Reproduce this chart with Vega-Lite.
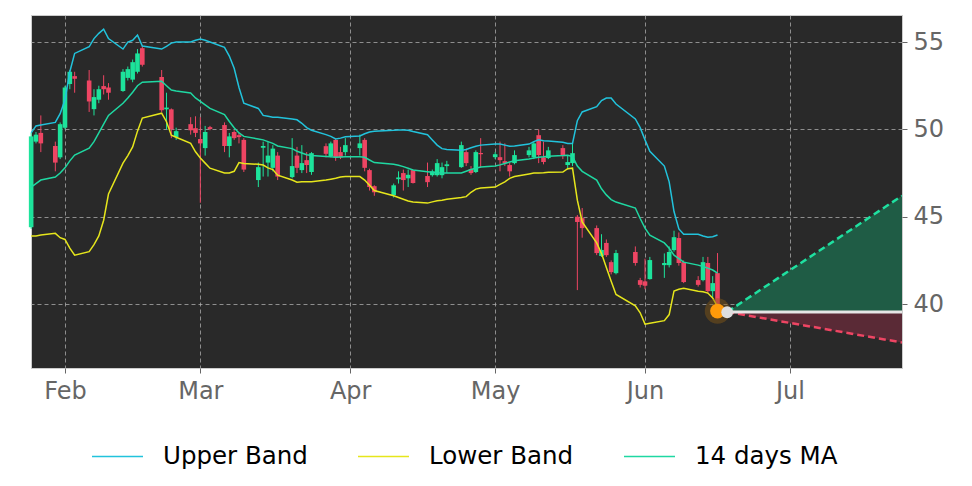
{
  "$schema": "https://vega.github.io/schema/vega-lite/v6.json",
  "width": 871,
  "height": 353,
  "autosize": {"type": "none"},
  "padding": {"left": 31, "top": 15, "right": 70, "bottom": 118},
  "background": "#ffffff",
  "config": {
    "view": {"fill": "#292929", "stroke": "#cccccc", "strokeWidth": 1},
    "font": "DejaVu Sans",
    "axis": {
      "labelFont": "DejaVu Sans",
      "labelFontSize": 24,
      "labelColor": "#666666",
      "tickColor": "#666666",
      "tickSize": 5,
      "domain": false,
      "grid": true,
      "gridColor": "#b0b0b0",
      "gridDash": [4, 3],
      "gridOpacity": 0.75,
      "gridWidth": 1,
      "labelPadding": 6,
      "title": null
    },
    "legend": {
      "labelFont": "DejaVu Sans",
      "labelFontSize": 24.5,
      "labelColor": "#000000",
      "padding": 0
    }
  },
  "datasets": {
    "candles": [
      {"date": "2023-01-25T00:00", "open": 44.4, "high": 49.8, "low": 44.3, "close": 49.6},
      {"date": "2023-01-26T00:00", "open": 49.3, "high": 49.85, "low": 49.2, "close": 49.7},
      {"date": "2023-01-27T00:00", "open": 49.8, "high": 50.8, "low": 48.7, "close": 49.2},
      {"date": "2023-01-30T00:00", "open": 49.05, "high": 49.3, "low": 47.6, "close": 48.1},
      {"date": "2023-01-31T00:00", "open": 48.4, "high": 50.4, "low": 48.3, "close": 50.3},
      {"date": "2023-02-01T00:00", "open": 50.1, "high": 52.5, "low": 50.0, "close": 52.4},
      {"date": "2023-02-02T00:00", "open": 52.6, "high": 53.4, "low": 52.3, "close": 53.3},
      {"date": "2023-02-03T00:00", "open": 53.05, "high": 53.3, "low": 52.1, "close": 52.9},
      {"date": "2023-02-06T00:00", "open": 52.8, "high": 53.4, "low": 51.0, "close": 51.6},
      {"date": "2023-02-07T00:00", "open": 51.16, "high": 52.3, "low": 50.8, "close": 51.85},
      {"date": "2023-02-08T00:00", "open": 51.7, "high": 52.5, "low": 51.5, "close": 52.3},
      {"date": "2023-02-09T00:00", "open": 52.48, "high": 53.1, "low": 52.0, "close": 52.3},
      {"date": "2023-02-10T00:00", "open": 52.4, "high": 52.65, "low": 51.7, "close": 52.1},
      {"date": "2023-02-13T00:00", "open": 52.2, "high": 53.45, "low": 52.15, "close": 53.3},
      {"date": "2023-02-14T00:00", "open": 52.95, "high": 53.6, "low": 52.8, "close": 53.45},
      {"date": "2023-02-15T00:00", "open": 52.85, "high": 54.0, "low": 52.7, "close": 53.85},
      {"date": "2023-02-16T00:00", "open": 53.3, "high": 54.6, "low": 53.2, "close": 54.35},
      {"date": "2023-02-17T00:00", "open": 54.65, "high": 54.8, "low": 53.6, "close": 53.7},
      {"date": "2023-02-21T00:00", "open": 53.0, "high": 53.4, "low": 51.0, "close": 51.1},
      {"date": "2023-02-22T00:00", "open": 51.15, "high": 52.1, "low": 50.0, "close": 51.25},
      {"date": "2023-02-23T00:00", "open": 51.15, "high": 51.2, "low": 49.5, "close": 50.0},
      {"date": "2023-02-24T00:00", "open": 49.56, "high": 50.1, "low": 49.4, "close": 49.9},
      {"date": "2023-02-27T00:00", "open": 50.3, "high": 50.7, "low": 49.7, "close": 49.95},
      {"date": "2023-02-28T00:00", "open": 50.07, "high": 50.75, "low": 49.56, "close": 49.8},
      {"date": "2023-03-01T00:00", "open": 49.45, "high": 50.7, "low": 45.8, "close": 49.2},
      {"date": "2023-03-02T00:00", "open": 48.93, "high": 50.2, "low": 48.5, "close": 49.85},
      {"date": "2023-03-03T00:00", "open": 50.13, "high": 50.2, "low": 49.95, "close": 50.02},
      {"date": "2023-03-06T00:00", "open": 50.25, "high": 50.4, "low": 48.7, "close": 49.05},
      {"date": "2023-03-07T00:00", "open": 49.05, "high": 49.8, "low": 48.4, "close": 49.6},
      {"date": "2023-03-08T00:00", "open": 49.85, "high": 49.95, "low": 49.4, "close": 49.5},
      {"date": "2023-03-09T00:00", "open": 49.67, "high": 49.8, "low": 49.2, "close": 49.56},
      {"date": "2023-03-10T00:00", "open": 49.4, "high": 49.5, "low": 47.56, "close": 47.7},
      {"date": "2023-03-13T00:00", "open": 47.1, "high": 48.1, "low": 46.7, "close": 47.84},
      {"date": "2023-03-14T00:00", "open": 48.95, "high": 49.3, "low": 47.3, "close": 49.05},
      {"date": "2023-03-15T00:00", "open": 48.1, "high": 49.3, "low": 47.3, "close": 48.5},
      {"date": "2023-03-16T00:00", "open": 47.8, "high": 49.1, "low": 47.6, "close": 48.9},
      {"date": "2023-03-17T00:00", "open": 48.5, "high": 48.7, "low": 47.1, "close": 47.3},
      {"date": "2023-03-20T00:00", "open": 47.27, "high": 49.5, "low": 47.2, "close": 47.9},
      {"date": "2023-03-21T00:00", "open": 48.5, "high": 49.0, "low": 47.5, "close": 47.8},
      {"date": "2023-03-22T00:00", "open": 47.67, "high": 49.1, "low": 47.5, "close": 48.07},
      {"date": "2023-03-23T00:00", "open": 48.24, "high": 48.7, "low": 47.5, "close": 47.96},
      {"date": "2023-03-24T00:00", "open": 47.56, "high": 48.7, "low": 47.4, "close": 48.64},
      {"date": "2023-03-27T00:00", "open": 49.04, "high": 49.2, "low": 48.4, "close": 48.6},
      {"date": "2023-03-28T00:00", "open": 48.47, "high": 49.3, "low": 48.4, "close": 49.2},
      {"date": "2023-03-29T00:00", "open": 49.4, "high": 49.5, "low": 48.2, "close": 48.4},
      {"date": "2023-03-30T00:00", "open": 48.7, "high": 49.0, "low": 48.3, "close": 48.4},
      {"date": "2023-03-31T00:00", "open": 48.7, "high": 49.5, "low": 48.5, "close": 49.1},
      {"date": "2023-04-03T00:00", "open": 48.93, "high": 49.7, "low": 48.5, "close": 49.2},
      {"date": "2023-04-04T00:00", "open": 49.4, "high": 49.5, "low": 47.6, "close": 47.8},
      {"date": "2023-04-05T00:00", "open": 47.67, "high": 47.75, "low": 46.5, "close": 46.7},
      {"date": "2023-04-06T00:00", "open": 46.75, "high": 46.8, "low": 46.2, "close": 46.4},
      {"date": "2023-04-10T00:00", "open": 46.24, "high": 46.9, "low": 46.1, "close": 46.8},
      {"date": "2023-04-11T00:00", "open": 47.15, "high": 47.6, "low": 46.9, "close": 47.25},
      {"date": "2023-04-12T00:00", "open": 47.5, "high": 47.7, "low": 46.5, "close": 47.1},
      {"date": "2023-04-13T00:00", "open": 47.2, "high": 47.7, "low": 46.7, "close": 47.4},
      {"date": "2023-04-14T00:00", "open": 47.67, "high": 47.7, "low": 46.9, "close": 46.93},
      {"date": "2023-04-17T00:00", "open": 47.33, "high": 48.1, "low": 46.7, "close": 46.98},
      {"date": "2023-04-18T00:00", "open": 47.38, "high": 47.7, "low": 47.3, "close": 47.6},
      {"date": "2023-04-19T00:00", "open": 47.38, "high": 48.3, "low": 47.3, "close": 48.07},
      {"date": "2023-04-20T00:00", "open": 47.38, "high": 48.1, "low": 47.2, "close": 47.84},
      {"date": "2023-04-21T00:00", "open": 47.9, "high": 48.2, "low": 47.5, "close": 48.0},
      {"date": "2023-04-24T00:00", "open": 47.84, "high": 49.3, "low": 47.8, "close": 49.1},
      {"date": "2023-04-25T00:00", "open": 48.7, "high": 48.9, "low": 47.9, "close": 48.07},
      {"date": "2023-04-26T00:00", "open": 47.73, "high": 47.9, "low": 47.4, "close": 47.5},
      {"date": "2023-04-27T00:00", "open": 47.56, "high": 48.8, "low": 47.5, "close": 48.7},
      {"date": "2023-04-28T00:00", "open": 48.65, "high": 49.5, "low": 47.8, "close": 48.58},
      {"date": "2023-05-01T00:00", "open": 48.41, "high": 48.7, "low": 48.3, "close": 48.58},
      {"date": "2023-05-02T00:00", "open": 48.41, "high": 49.3, "low": 47.6, "close": 48.24},
      {"date": "2023-05-03T00:00", "open": 48.18, "high": 49.2, "low": 47.9, "close": 48.07},
      {"date": "2023-05-04T00:00", "open": 47.96, "high": 48.1, "low": 47.3, "close": 47.6},
      {"date": "2023-05-05T00:00", "open": 48.07, "high": 48.8, "low": 48.0, "close": 48.53},
      {"date": "2023-05-08T00:00", "open": 48.53, "high": 49.0, "low": 48.4, "close": 48.8},
      {"date": "2023-05-09T00:00", "open": 48.41, "high": 49.3, "low": 48.3, "close": 49.2},
      {"date": "2023-05-10T00:00", "open": 49.67, "high": 50.0, "low": 48.07, "close": 48.53},
      {"date": "2023-05-11T00:00", "open": 48.41, "high": 49.3, "low": 48.0, "close": 48.13},
      {"date": "2023-05-12T00:00", "open": 48.36, "high": 49.0, "low": 48.3, "close": 48.8},
      {"date": "2023-05-15T00:00", "open": 48.93, "high": 49.1, "low": 48.3, "close": 48.47},
      {"date": "2023-05-16T00:00", "open": 47.96, "high": 48.5, "low": 47.7, "close": 48.13},
      {"date": "2023-05-17T00:00", "open": 48.07, "high": 49.2, "low": 47.9, "close": 48.64},
      {"date": "2023-05-18T00:00", "open": 45.0, "high": 45.1, "low": 40.8, "close": 44.7},
      {"date": "2023-05-19T00:00", "open": 44.92, "high": 45.5, "low": 43.8, "close": 44.35},
      {"date": "2023-05-22T00:00", "open": 44.35, "high": 44.5, "low": 42.8, "close": 42.92},
      {"date": "2023-05-23T00:00", "open": 42.75, "high": 44.0, "low": 42.7, "close": 43.1},
      {"date": "2023-05-24T00:00", "open": 43.5, "high": 43.7, "low": 42.7, "close": 42.8},
      {"date": "2023-05-25T00:00", "open": 42.4, "high": 42.5, "low": 41.7, "close": 41.83},
      {"date": "2023-05-26T00:00", "open": 41.77, "high": 43.1, "low": 41.7, "close": 42.92},
      {"date": "2023-05-30T00:00", "open": 42.98, "high": 43.3, "low": 42.2, "close": 42.35},
      {"date": "2023-05-31T00:00", "open": 41.37, "high": 41.5, "low": 40.95, "close": 41.1},
      {"date": "2023-06-01T00:00", "open": 41.3, "high": 42.6, "low": 40.85, "close": 41.05},
      {"date": "2023-06-02T00:00", "open": 41.43, "high": 42.7, "low": 41.4, "close": 42.52},
      {"date": "2023-06-05T00:00", "open": 42.23, "high": 42.9, "low": 41.5, "close": 42.35},
      {"date": "2023-06-06T00:00", "open": 42.23, "high": 43.3, "low": 42.1, "close": 42.98},
      {"date": "2023-06-07T00:00", "open": 43.09, "high": 44.2, "low": 43.0, "close": 43.83},
      {"date": "2023-06-08T00:00", "open": 43.78, "high": 44.1, "low": 42.2, "close": 42.35},
      {"date": "2023-06-09T00:00", "open": 42.4, "high": 42.5, "low": 41.2, "close": 41.26},
      {"date": "2023-06-12T00:00", "open": 41.37, "high": 41.6, "low": 41.0, "close": 41.1},
      {"date": "2023-06-13T00:00", "open": 41.37, "high": 42.7, "low": 41.3, "close": 42.4},
      {"date": "2023-06-14T00:00", "open": 42.35, "high": 42.7, "low": 40.6, "close": 40.74},
      {"date": "2023-06-15T00:00", "open": 40.74, "high": 41.6, "low": 40.4, "close": 41.2},
      {"date": "2023-06-16T00:00", "open": 41.77, "high": 42.92, "low": 39.6, "close": 39.7}
    ],
    "bands": [
      {"date": "2023-01-25T00:00", "Upper Band": 49.8, "Lower Band": 43.9, "14 days MA": 46.7},
      {"date": "2023-01-26T00:00", "Upper Band": 50.2, "Lower Band": 43.9, "14 days MA": 46.9},
      {"date": "2023-01-27T00:00", "Upper Band": 50.25, "Lower Band": 43.95, "14 days MA": 47.1},
      {"date": "2023-01-30T00:00", "Upper Band": 50.4, "Lower Band": 44.05, "14 days MA": 47.27},
      {"date": "2023-01-31T00:00", "Upper Band": 50.9, "Lower Band": 43.8, "14 days MA": 47.5},
      {"date": "2023-02-01T00:00", "Upper Band": 51.7, "Lower Band": 43.7, "14 days MA": 47.8},
      {"date": "2023-02-02T00:00", "Upper Band": 53.3, "Lower Band": 43.2, "14 days MA": 48.2},
      {"date": "2023-02-03T00:00", "Upper Band": 54.35, "Lower Band": 42.8, "14 days MA": 48.53},
      {"date": "2023-02-06T00:00", "Upper Band": 54.73, "Lower Band": 43.0, "14 days MA": 48.93},
      {"date": "2023-02-07T00:00", "Upper Band": 55.2, "Lower Band": 43.4, "14 days MA": 49.3},
      {"date": "2023-02-08T00:00", "Upper Band": 55.5, "Lower Band": 43.9, "14 days MA": 49.8},
      {"date": "2023-02-09T00:00", "Upper Band": 55.74, "Lower Band": 44.8, "14 days MA": 50.3},
      {"date": "2023-02-10T00:00", "Upper Band": 55.2, "Lower Band": 46.3, "14 days MA": 50.8},
      {"date": "2023-02-13T00:00", "Upper Band": 54.6, "Lower Band": 48.07, "14 days MA": 51.5},
      {"date": "2023-02-14T00:00", "Upper Band": 55.0, "Lower Band": 48.5, "14 days MA": 51.8},
      {"date": "2023-02-15T00:00", "Upper Band": 55.1, "Lower Band": 49.0, "14 days MA": 52.13},
      {"date": "2023-02-16T00:00", "Upper Band": 55.4, "Lower Band": 49.9, "14 days MA": 52.5},
      {"date": "2023-02-17T00:00", "Upper Band": 54.77, "Lower Band": 50.65, "14 days MA": 52.7},
      {"date": "2023-02-21T00:00", "Upper Band": 54.6, "Lower Band": 50.93, "14 days MA": 52.76},
      {"date": "2023-02-22T00:00", "Upper Band": 54.75, "Lower Band": 50.44, "14 days MA": 52.5},
      {"date": "2023-02-23T00:00", "Upper Band": 54.94, "Lower Band": 49.67, "14 days MA": 52.25},
      {"date": "2023-02-24T00:00", "Upper Band": 55.0, "Lower Band": 49.55, "14 days MA": 52.2},
      {"date": "2023-02-27T00:00", "Upper Band": 55.0, "Lower Band": 49.2, "14 days MA": 52.08},
      {"date": "2023-02-28T00:00", "Upper Band": 55.1, "Lower Band": 48.72, "14 days MA": 51.8},
      {"date": "2023-03-01T00:00", "Upper Band": 55.17, "Lower Band": 48.36, "14 days MA": 51.6},
      {"date": "2023-03-02T00:00", "Upper Band": 55.1, "Lower Band": 48.07, "14 days MA": 51.4},
      {"date": "2023-03-03T00:00", "Upper Band": 55.0, "Lower Band": 47.78, "14 days MA": 51.2},
      {"date": "2023-03-06T00:00", "Upper Band": 54.7, "Lower Band": 47.5, "14 days MA": 50.85},
      {"date": "2023-03-07T00:00", "Upper Band": 54.2, "Lower Band": 47.5, "14 days MA": 50.45},
      {"date": "2023-03-08T00:00", "Upper Band": 53.5, "Lower Band": 47.6, "14 days MA": 50.1},
      {"date": "2023-03-09T00:00", "Upper Band": 52.4, "Lower Band": 48.1, "14 days MA": 49.8},
      {"date": "2023-03-10T00:00", "Upper Band": 51.5, "Lower Band": 48.05, "14 days MA": 49.6},
      {"date": "2023-03-13T00:00", "Upper Band": 51.2, "Lower Band": 48.0, "14 days MA": 49.45},
      {"date": "2023-03-14T00:00", "Upper Band": 50.8, "Lower Band": 47.96, "14 days MA": 49.4},
      {"date": "2023-03-15T00:00", "Upper Band": 50.75, "Lower Band": 47.8, "14 days MA": 49.3},
      {"date": "2023-03-16T00:00", "Upper Band": 50.7, "Lower Band": 47.7, "14 days MA": 49.2},
      {"date": "2023-03-17T00:00", "Upper Band": 50.7, "Lower Band": 47.38, "14 days MA": 49.05},
      {"date": "2023-03-20T00:00", "Upper Band": 50.6, "Lower Band": 47.1, "14 days MA": 48.9},
      {"date": "2023-03-21T00:00", "Upper Band": 50.55, "Lower Band": 46.98, "14 days MA": 48.75},
      {"date": "2023-03-22T00:00", "Upper Band": 50.35, "Lower Band": 47.0, "14 days MA": 48.65},
      {"date": "2023-03-23T00:00", "Upper Band": 50.1, "Lower Band": 47.0, "14 days MA": 48.55},
      {"date": "2023-03-24T00:00", "Upper Band": 49.95, "Lower Band": 47.0, "14 days MA": 48.5},
      {"date": "2023-03-27T00:00", "Upper Band": 49.7, "Lower Band": 47.1, "14 days MA": 48.45},
      {"date": "2023-03-28T00:00", "Upper Band": 49.6, "Lower Band": 47.15, "14 days MA": 48.43},
      {"date": "2023-03-29T00:00", "Upper Band": 49.45, "Lower Band": 47.2, "14 days MA": 48.4},
      {"date": "2023-03-30T00:00", "Upper Band": 49.5, "Lower Band": 47.27, "14 days MA": 48.42},
      {"date": "2023-03-31T00:00", "Upper Band": 49.58, "Lower Band": 47.3, "14 days MA": 48.43},
      {"date": "2023-04-03T00:00", "Upper Band": 49.62, "Lower Band": 47.3, "14 days MA": 48.43},
      {"date": "2023-04-04T00:00", "Upper Band": 49.75, "Lower Band": 47.1, "14 days MA": 48.4},
      {"date": "2023-04-05T00:00", "Upper Band": 49.85, "Lower Band": 46.8, "14 days MA": 48.25},
      {"date": "2023-04-06T00:00", "Upper Band": 49.9, "Lower Band": 46.5, "14 days MA": 48.1},
      {"date": "2023-04-10T00:00", "Upper Band": 49.95, "Lower Band": 46.2, "14 days MA": 48.0},
      {"date": "2023-04-11T00:00", "Upper Band": 49.97, "Lower Band": 46.1, "14 days MA": 47.95},
      {"date": "2023-04-12T00:00", "Upper Band": 49.97, "Lower Band": 46.0, "14 days MA": 47.87},
      {"date": "2023-04-13T00:00", "Upper Band": 49.95, "Lower Band": 45.9, "14 days MA": 47.78},
      {"date": "2023-04-14T00:00", "Upper Band": 49.88, "Lower Band": 45.85, "14 days MA": 47.68},
      {"date": "2023-04-17T00:00", "Upper Band": 49.7, "Lower Band": 45.78, "14 days MA": 47.58},
      {"date": "2023-04-18T00:00", "Upper Band": 49.4, "Lower Band": 45.85, "14 days MA": 47.55},
      {"date": "2023-04-19T00:00", "Upper Band": 49.1, "Lower Band": 45.92, "14 days MA": 47.52},
      {"date": "2023-04-20T00:00", "Upper Band": 48.9, "Lower Band": 45.95, "14 days MA": 47.5},
      {"date": "2023-04-21T00:00", "Upper Band": 48.85, "Lower Band": 46.0, "14 days MA": 47.5},
      {"date": "2023-04-24T00:00", "Upper Band": 48.8, "Lower Band": 46.1, "14 days MA": 47.5},
      {"date": "2023-04-25T00:00", "Upper Band": 48.85, "Lower Band": 46.15, "14 days MA": 47.6},
      {"date": "2023-04-26T00:00", "Upper Band": 48.95, "Lower Band": 46.4, "14 days MA": 47.7},
      {"date": "2023-04-27T00:00", "Upper Band": 49.04, "Lower Band": 46.58, "14 days MA": 47.78},
      {"date": "2023-04-28T00:00", "Upper Band": 49.1, "Lower Band": 46.65, "14 days MA": 47.85},
      {"date": "2023-05-01T00:00", "Upper Band": 49.16, "Lower Band": 46.7, "14 days MA": 47.9},
      {"date": "2023-05-02T00:00", "Upper Band": 49.16, "Lower Band": 46.85, "14 days MA": 47.97},
      {"date": "2023-05-03T00:00", "Upper Band": 49.1, "Lower Band": 47.0, "14 days MA": 48.05},
      {"date": "2023-05-04T00:00", "Upper Band": 49.04, "Lower Band": 47.2, "14 days MA": 48.13},
      {"date": "2023-05-05T00:00", "Upper Band": 49.05, "Lower Band": 47.3, "14 days MA": 48.2},
      {"date": "2023-05-08T00:00", "Upper Band": 49.16, "Lower Band": 47.45, "14 days MA": 48.3},
      {"date": "2023-05-09T00:00", "Upper Band": 49.3, "Lower Band": 47.5, "14 days MA": 48.36},
      {"date": "2023-05-10T00:00", "Upper Band": 49.4, "Lower Band": 47.5, "14 days MA": 48.4},
      {"date": "2023-05-11T00:00", "Upper Band": 49.35, "Lower Band": 47.52, "14 days MA": 48.43},
      {"date": "2023-05-12T00:00", "Upper Band": 49.33, "Lower Band": 47.55, "14 days MA": 48.47},
      {"date": "2023-05-15T00:00", "Upper Band": 49.27, "Lower Band": 47.56, "14 days MA": 48.5},
      {"date": "2023-05-16T00:00", "Upper Band": 49.2, "Lower Band": 47.75, "14 days MA": 48.52},
      {"date": "2023-05-17T00:00", "Upper Band": 49.2, "Lower Band": 47.78, "14 days MA": 48.45},
      {"date": "2023-05-18T00:00", "Upper Band": 50.5, "Lower Band": 45.95, "14 days MA": 47.9},
      {"date": "2023-05-19T00:00", "Upper Band": 51.0, "Lower Band": 44.7, "14 days MA": 47.6},
      {"date": "2023-05-22T00:00", "Upper Band": 51.3, "Lower Band": 43.5, "14 days MA": 47.1},
      {"date": "2023-05-23T00:00", "Upper Band": 51.65, "Lower Band": 42.9, "14 days MA": 46.6},
      {"date": "2023-05-24T00:00", "Upper Band": 51.8, "Lower Band": 42.1, "14 days MA": 46.25},
      {"date": "2023-05-25T00:00", "Upper Band": 51.8, "Lower Band": 41.3, "14 days MA": 45.98},
      {"date": "2023-05-26T00:00", "Upper Band": 51.45, "Lower Band": 40.55, "14 days MA": 45.84},
      {"date": "2023-05-30T00:00", "Upper Band": 50.6, "Lower Band": 39.9, "14 days MA": 45.5},
      {"date": "2023-05-31T00:00", "Upper Band": 50.1, "Lower Band": 39.5, "14 days MA": 44.9},
      {"date": "2023-06-01T00:00", "Upper Band": 49.4, "Lower Band": 38.85, "14 days MA": 44.35},
      {"date": "2023-06-02T00:00", "Upper Band": 48.75, "Lower Band": 38.9, "14 days MA": 43.95},
      {"date": "2023-06-05T00:00", "Upper Band": 47.9, "Lower Band": 39.05, "14 days MA": 43.5},
      {"date": "2023-06-06T00:00", "Upper Band": 47.0, "Lower Band": 39.4, "14 days MA": 43.2},
      {"date": "2023-06-07T00:00", "Upper Band": 45.3, "Lower Band": 40.75, "14 days MA": 42.8},
      {"date": "2023-06-08T00:00", "Upper Band": 44.3, "Lower Band": 40.85, "14 days MA": 42.6},
      {"date": "2023-06-09T00:00", "Upper Band": 44.0, "Lower Band": 40.9, "14 days MA": 42.4},
      {"date": "2023-06-12T00:00", "Upper Band": 44.0, "Lower Band": 40.74, "14 days MA": 42.23},
      {"date": "2023-06-13T00:00", "Upper Band": 43.9, "Lower Band": 40.7, "14 days MA": 42.15},
      {"date": "2023-06-14T00:00", "Upper Band": 43.83, "Lower Band": 40.63, "14 days MA": 42.06},
      {"date": "2023-06-15T00:00", "Upper Band": 43.85, "Lower Band": 40.35, "14 days MA": 41.95},
      {"date": "2023-06-16T00:00", "Upper Band": 43.95, "Lower Band": 39.85, "14 days MA": 41.77}
    ],
    "cone": [
      {"date": "2023-06-18T00:00", "base": 39.55, "hi": 39.55, "lo": 39.55},
      {"date": "2023-07-24T04:00", "base": 39.55, "hi": 46.2, "lo": 37.8}
    ],
    "last": [
      {"date": "2023-06-16T00:00", "price": 39.6}
    ],
    "next": [
      {"date": "2023-06-18T00:00", "price": 39.53}
    ]
  },
  "encoding": {
    "x": {
      "field": "date",
      "type": "temporal",
      "title": null,
      "scale": {
        "padding": 0,
        "domain": [
          {"year": 2023, "month": 1, "date": 24, "hours": 23, "minutes": 15},
          {"year": 2023, "month": 7, "date": 24, "hours": 4}
        ]
      },
      "axis": {
        "format": "%b",
        "values": [
          {"year": 2023, "month": 2, "date": 1},
          {"year": 2023, "month": 3, "date": 1},
          {"year": 2023, "month": 4, "date": 1},
          {"year": 2023, "month": 5, "date": 1},
          {"year": 2023, "month": 6, "date": 1},
          {"year": 2023, "month": 7, "date": 1}
        ]
      }
    }
  },
  "layer": [
    {
      "data": {"name": "cone"},
      "mark": {"type": "area", "color": "#1f5c45", "clip": true},
      "encoding": {
        "y": {
          "field": "base",
          "type": "quantitative",
          "title": null,
          "scale": {"domain": [36.34, 56.55], "nice": false, "zero": false},
          "axis": {"orient": "right", "values": [40, 45, 50, 55]}
        },
        "y2": {"field": "hi"}
      }
    },
    {
      "data": {"name": "cone"},
      "mark": {"type": "area", "color": "#5a2a36", "clip": true},
      "encoding": {
        "y": {"field": "base", "type": "quantitative", "title": null},
        "y2": {"field": "lo"}
      }
    },
    {
      "data": {"name": "candles"},
      "mark": {"type": "rule", "strokeWidth": 1},
      "encoding": {
        "y": {"field": "low", "type": "quantitative", "title": null},
        "y2": {"field": "high"},
        "color": {"condition": {"test": "datum.close >= datum.open", "value": "#1de39b"}, "value": "#ee4563"}
      }
    },
    {
      "data": {"name": "candles"},
      "mark": {"type": "bar", "size": 4.6},
      "encoding": {
        "y": {"field": "open", "type": "quantitative", "title": null},
        "y2": {"field": "close"},
        "color": {"condition": {"test": "datum.close >= datum.open", "value": "#1de39b"}, "value": "#ee4563"}
      }
    },
    {
      "data": {"name": "bands"},
      "transform": [{"fold": ["Upper Band", "Lower Band", "14 days MA"], "as": ["band", "value"]}],
      "mark": {"type": "line", "strokeWidth": 1.5},
      "encoding": {
        "y": {"field": "value", "type": "quantitative", "title": null},
        "color": {
          "field": "band",
          "type": "nominal",
          "scale": {"domain": ["Upper Band", "Lower Band", "14 days MA"], "range": ["#22c3dc", "#e6e61c", "#1fd8a2"]},
          "legend": {
            "title": null,
            "orient": "none",
            "direction": "horizontal",
            "legendX": 60,
            "legendY": 415,
            "symbolType": "stroke",
            "symbolSize": 2601,
            "symbolStrokeWidth": 1.5,
            "labelOffset": 19,
            "columnPadding": 47
          }
        }
      }
    },
    {
      "data": {"name": "cone"},
      "mark": {"type": "line", "color": "#1fe0a0", "strokeWidth": 2.5, "strokeDash": [7, 4], "clip": true},
      "encoding": {"y": {"field": "hi", "type": "quantitative", "title": null}}
    },
    {
      "data": {"name": "cone"},
      "mark": {"type": "line", "color": "#ee4563", "strokeWidth": 2.5, "strokeDash": [7, 4], "clip": true},
      "encoding": {"y": {"field": "lo", "type": "quantitative", "title": null}}
    },
    {
      "data": {"name": "cone"},
      "mark": {"type": "line", "color": "#e6e6e6", "strokeWidth": 3, "clip": true},
      "encoding": {"y": {"field": "base", "type": "quantitative", "title": null}}
    },
    {
      "data": {"name": "last"},
      "mark": {"type": "circle", "color": "#8a5a14", "opacity": 0.45, "size": 650},
      "encoding": {"y": {"field": "price", "type": "quantitative", "title": null}}
    },
    {
      "data": {"name": "last"},
      "mark": {"type": "circle", "color": "#ff9a0a", "opacity": 1, "size": 220},
      "encoding": {"y": {"field": "price", "type": "quantitative", "title": null}}
    },
    {
      "data": {"name": "next"},
      "mark": {"type": "circle", "color": "#dedede", "opacity": 1, "size": 140},
      "encoding": {"y": {"field": "price", "type": "quantitative", "title": null}}
    }
  ]
}
